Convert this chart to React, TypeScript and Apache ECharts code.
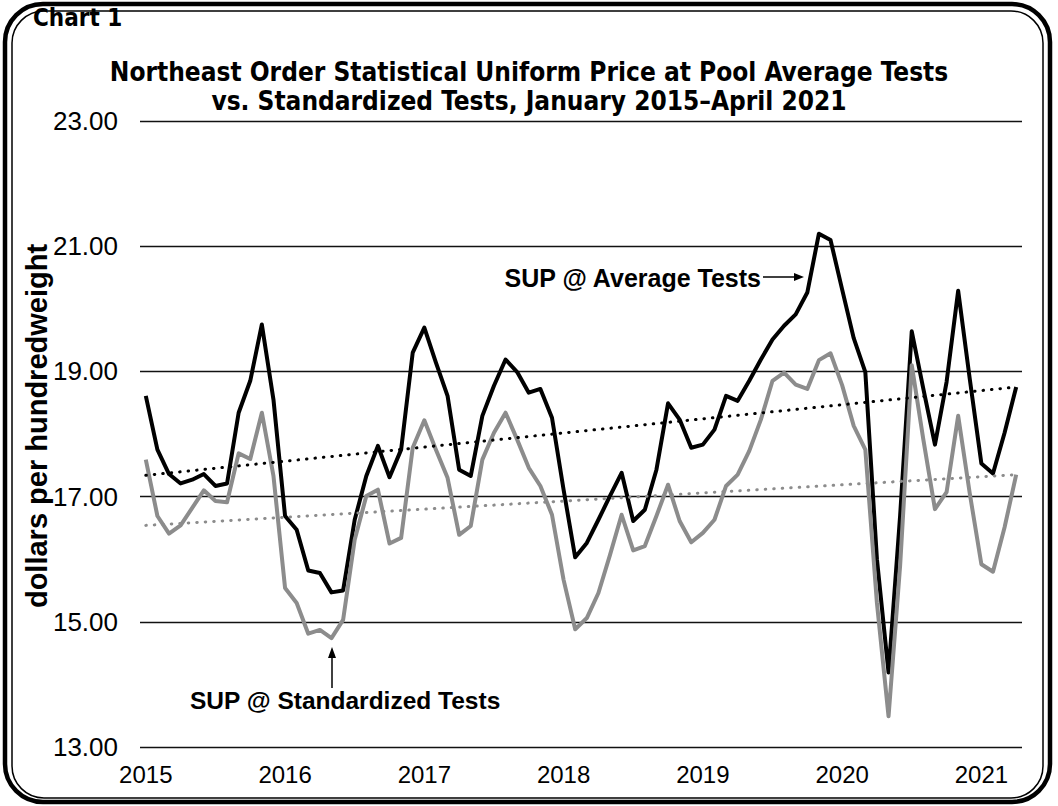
import React, { useEffect, useRef } from "react";
import * as echarts from "echarts";

const years = [2015, 2016, 2017, 2018, 2019, 2020, 2021];
const monthsPerYear = [12, 12, 12, 12, 12, 12, 4];

// SUP @ Average Tests, $/cwt, Jan 2015 - Apr 2021
const avgTests = [
  18.61, 17.75, 17.36, 17.21, 17.27, 17.36, 17.17, 17.21, 18.34, 18.85, 19.75, 18.55,
  16.69, 16.47, 15.82, 15.78, 15.47, 15.5, 16.63, 17.33, 17.81, 17.31, 17.75, 19.3,
  19.7, 19.14, 18.61, 17.43, 17.33, 18.29, 18.77, 19.19, 18.99, 18.66, 18.72, 18.26,
  17.11, 16.03, 16.26, 16.63, 17.01, 17.38, 16.61, 16.79, 17.43, 18.49, 18.23, 17.78,
  17.83, 18.07, 18.61, 18.53, 18.85, 19.19, 19.51, 19.73, 19.91, 20.26, 21.2, 21.1,
  20.31, 19.53, 18.99, 16.0, 14.19, 16.7, 19.64, 18.72, 17.83, 18.83, 20.29, 18.88,
  17.53, 17.37, 18.02, 18.75,
];

// SUP @ Standardized Tests
const stdTests = [
  17.59, 16.69, 16.41, 16.54, 16.82, 17.1, 16.93, 16.91, 17.69, 17.6, 18.34, 17.33,
  15.54, 15.3, 14.81, 14.87, 14.74, 15.03, 16.31, 17.01, 17.11, 16.25, 16.34, 17.78,
  18.22, 17.75, 17.3, 16.39, 16.53, 17.59, 18.02, 18.34, 17.91, 17.46, 17.17, 16.71,
  15.67, 14.88, 15.06, 15.46, 16.07, 16.71, 16.14, 16.21, 16.69, 17.19, 16.61, 16.27,
  16.42, 16.63, 17.17, 17.35, 17.73, 18.23, 18.85, 18.98, 18.79, 18.72, 19.18, 19.29,
  18.78, 18.13, 17.75, 15.3, 13.49, 15.9, 19.1, 17.91, 16.8, 17.07, 18.29, 17.05,
  15.92, 15.8, 16.51, 17.35,
];

// Linear trend lines: values at first and last month
const avgTrendEnds = [17.34, 18.75];
const stdTrendEnds = [16.54, 17.35];

const yTicks = [13, 15, 17, 19, 21, 23];

const categories: string[] = [];
years.forEach((y, k) => {
  for (let m = 1; m <= monthsPerYear[k]; m++) categories.push(`${y}-${m}`);
});

const FONT = "'Liberation Sans', Arial, sans-serif";
const TITLE_FONT = "'DejaVu Sans Condensed', 'DejaVu Sans', sans-serif";

export default function App() {
  const ref = useRef<HTMLDivElement>(null);
  useEffect(() => {
    if (!ref.current) return;
    const chart = echarts.init(ref.current, null, { renderer: "svg" });
    const last = categories.length - 1;
    const dotted = (color: string) => ({
      color,
      width: 3,
      type: [0.5, 8] as any,
      cap: "round" as any,
    });
    chart.setOption({
      animation: false,
      backgroundColor: "#fff",
      grid: { left: 140, right: 36, top: 121, bottom: 59, containLabel: false },
      xAxis: {
        type: "category",
        data: categories,
        boundaryGap: true,
        axisLine: { show: false },
        axisTick: { show: false },
        axisLabel: {
          interval: 11,
          formatter: (v: string) => v.split("-")[0],
          color: "#000",
          fontSize: 24,
          fontFamily: FONT,
          margin: 15,
        },
        splitLine: { show: false },
      },
      yAxis: {
        type: "value",
        min: yTicks[0],
        max: yTicks[yTicks.length - 1],
        interval: 2,
        axisLine: { show: false },
        axisTick: { show: false },
        axisLabel: {
          formatter: (v: number) => v.toFixed(2),
          color: "#000",
          fontSize: 26,
          fontFamily: FONT,
          margin: 22,
        },
        splitLine: { show: true, lineStyle: { color: "#111", width: 1.4 } },
      },
      series: [
        {
          type: "line",
          data: avgTests,
          symbol: "none",
          lineStyle: { color: "#000", width: 4, join: "round" },
          z: 2,
        },
        {
          type: "line",
          data: stdTests,
          symbol: "none",
          lineStyle: { color: "#8c8c8c", width: 4, join: "round" },
          z: 3,
        },
        {
          type: "line",
          data: [
            [0, avgTrendEnds[0]],
            [last, avgTrendEnds[1]],
          ],
          symbol: "none",
          lineStyle: dotted("#000"),
          z: 4,
        },
        {
          type: "line",
          data: [
            [0, stdTrendEnds[0]],
            [last, stdTrendEnds[1]],
          ],
          symbol: "none",
          lineStyle: dotted("#8c8c8c"),
          z: 4,
        },
      ],
      graphic: [
        {
          type: "rect",
          shape: { x: 5, y: 4, width: 1045, height: 798, r: 38 },
          style: { fill: "none", stroke: "#000", lineWidth: 4.5 },
          silent: true,
        },
        {
          type: "rect",
          shape: { x: 12, y: 11, width: 1031, height: 787, r: 32 },
          style: { fill: "none", stroke: "#000", lineWidth: 1.5 },
          silent: true,
        },
        {
          type: "text",
          left: 33,
          top: 6,
          style: {
            text: "Chart 1",
            font: `bold 24px ${TITLE_FONT}`,
            fill: "#000",
          },
        },
        {
          type: "text",
          x: 529,
          y: 72,
          style: {
            text: "Northeast Order Statistical Uniform Price at Pool Average Tests",
            font: `bold 26px ${TITLE_FONT}`,
            fill: "#000",
            align: "center",
            verticalAlign: "middle",
          },
        },
        {
          type: "text",
          x: 529,
          y: 101,
          style: {
            text: "vs. Standardized Tests, January 2015\u2013April 2021",
            font: `bold 26px ${TITLE_FONT}`,
            fill: "#000",
            align: "center",
            verticalAlign: "middle",
          },
        },
        {
          type: "text",
          x: 37,
          y: 426,
          rotation: Math.PI / 2,
          style: {
            text: "dollars per hundredweight",
            font: `bold 29px ${FONT}`,
            fill: "#000",
            align: "center",
            verticalAlign: "middle",
          },
        },
        {
          type: "text",
          x: 761,
          y: 278,
          style: {
            text: "SUP @ Average Tests",
            font: `bold 25px ${FONT}`,
            fill: "#000",
            align: "right",
            verticalAlign: "middle",
          },
        },
        {
          type: "line",
          shape: { x1: 763, y1: 277, x2: 796, y2: 277 },
          style: { stroke: "#000", lineWidth: 1.5 },
        },
        {
          type: "polygon",
          shape: { points: [[804, 277], [794, 273], [794, 281]] },
          style: { fill: "#000" },
        },
        {
          type: "text",
          x: 190,
          y: 700,
          style: {
            text: "SUP @ Standardized Tests",
            font: `bold 24.5px ${FONT}`,
            fill: "#000",
            align: "left",
            verticalAlign: "middle",
          },
        },
        {
          type: "line",
          shape: { x1: 332, y1: 688, x2: 332, y2: 656 },
          style: { stroke: "#000", lineWidth: 1.5 },
        },
        {
          type: "polygon",
          shape: { points: [[332, 647], [328, 658], [336, 658]] },
          style: { fill: "#000" },
        },
      ],
    });
    return () => chart.dispose();
  }, []);
  return <div ref={ref} style={{ width: 1058, height: 806, position: "absolute", left: 0, top: 0 }} />;
}
